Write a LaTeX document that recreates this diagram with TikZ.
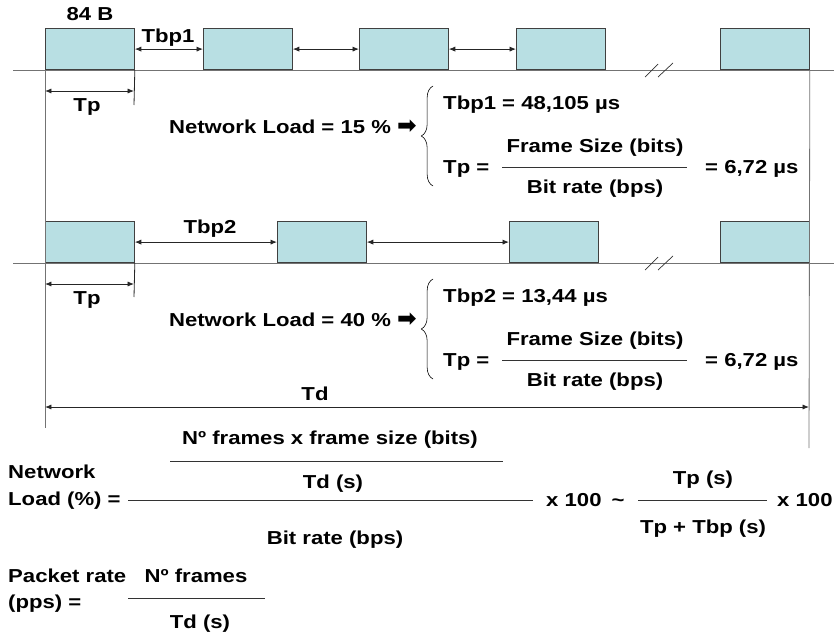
\documentclass[tikz,border=0pt]{standalone}
\usepackage{fontspec}
\setmainfont{Liberation Sans}[FakeStretch=1.18]
\newfontfamily\arrowfont{DejaVu Sans}
\usetikzlibrary{arrows.meta,decorations.pathreplacing}
\definecolor{framefill}{RGB}{184,223,227}
\definecolor{linegray}{RGB}{115,115,115}

\begin{document}
\begin{tikzpicture}[x=0.03cm,y=-0.03cm,
  every node/.style={font=\bfseries\fontsize{16}{18}\selectfont,inner sep=0pt},
  frame/.style={draw=black!75,fill=framefill,line width=0.7pt,minimum width=2.67cm,minimum height=1.23cm,anchor=south west},
  dim/.style={black!85,line width=0.7pt,{Latex[length=5.5pt,width=4.4pt]}-{Latex[length=5.5pt,width=4.4pt]}},
  axis/.style={linegray,line width=0.7pt},
  tick/.style={black!85,line width=0.7pt},
  fracbar/.style={black!80,line width=0.6pt},
  brk/.style={black!80,line width=0.6pt},
  curly/.style={decorate,decoration={brace,amplitude=10pt},line width=0.5pt}]
\useasboundingbox (0,0) rectangle (834,637);

%time axes
\draw[axis] (13,70) -- (834,70);
\draw[axis] (13,263) -- (834,263);
\draw[brk] (645,77) -- (658,64) (658,77) -- (673,63);
\draw[brk] (645,270) -- (658,257) (658,270) -- (673,256);

%frames at 15 %
\node[frame] (f1) at (45,70) {};
\node[frame] (f2) at (203,70) {};
\node[frame] (f3) at (359,70) {};
\node[frame] (f4) at (516,70) {};
\node[frame] (f5) at (720,70) {};
\node[anchor=base] (size) at (90,20) {84 B};
\node[anchor=base] (tbp1) at (168,42) {Tbp1};
\draw[dim] (f1.east) -- (f2.west);
\draw[dim] (f2.east) -- (f3.west);
\draw[dim] (f3.east) -- (f4.west);

%frames at 40 %
\node[frame] (g1) at (45,263) {};
\node[frame] (g2) at (277,263) {};
\node[frame] (g3) at (509,263) {};
\node[frame] (g4) at (720,263) {};
\node[anchor=base] (tbp2) at (210,233) {Tbp2};
\draw[dim] (g1.east) -- (g2.west);
\draw[dim] (g2.east) -- (g3.west);

%limits of Td
\coordinate (lend) at (45,428);
\coordinate (rend) at (809,448);
\draw[axis] (f1.south west) -- (lend);
\draw[axis] (f5.south east) -- (rend);

%Tp, first row
\coordinate (tk1) at (134,105);
\coordinate (tpa1) at (45,91);
\coordinate (tpb1) at (134,91);
\draw[tick] (f1.south east) -- (tk1);
\draw[dim] (tpa1) -- (tpb1);
\node[anchor=base] (tplab1) at (87,111) {Tp};

%Tp, second row
\coordinate (tk2) at (134,297);
\coordinate (tpa2) at (45,284);
\coordinate (tpb2) at (134,284);
\draw[tick] (g1.south east) -- (tk2);
\draw[dim] (tpa2) -- (tpb2);
\node[anchor=base] (tplab2) at (87,304) {Tp};

%values at 15 %
\node[anchor=base east] (load1) at (417,133) {Network Load = 15 \% {\arrowfont\fontsize{20}{20}\selectfont\raisebox{-0.5pt}{➡}}};
\draw[curly] (433,186) -- (433,86);
\node[anchor=base west] (tbpv1) at (443,109) {Tbp1 = 48,105 µs};
\node[anchor=base west] (tpeq1) at (443,173) {Tp =};
\draw[fracbar] (502,167) -- (687,167);
\node[anchor=base] (fs1) at (595,152) {Frame Size (bits)};
\node[anchor=base] (br1) at (595,193) {Bit rate (bps)};
\node[anchor=base west] (tpv1) at (705,173) {= 6,72 µs};

%values at 40 %
\node[anchor=base east] (load2) at (417,326) {Network Load = 40 \% {\arrowfont\fontsize{20}{20}\selectfont\raisebox{-0.5pt}{➡}}};
\draw[curly] (433,379) -- (433,279);
\node[anchor=base west] (tbpv2) at (443,302) {Tbp2 = 13,44 µs};
\node[anchor=base west] (tpeq2) at (443,366) {Tp =};
\draw[fracbar] (502,360) -- (687,360);
\node[anchor=base] (fs2) at (595,345) {Frame Size (bits)};
\node[anchor=base] (br2) at (595,386) {Bit rate (bps)};
\node[anchor=base west] (tpv2) at (705,366) {= 6,72 µs};

%Td
\coordinate (tda) at (45,407);
\coordinate (tdb) at (809,407);
\draw[dim] (tda) -- (tdb);
\node[anchor=base] (td) at (315,400) {Td};

%network load formula
\node[anchor=base west] (nl1) at (8,478) {Network};
\node[anchor=base west] (nl2) at (8,505) {Load (\%) =};
\node[anchor=base] (num) at (330,444) {Nº frames x frame size (bits)};
\draw[fracbar] (170,461) -- (503,461);
\node[anchor=base] (tds) at (333,488) {Td (s)};
\draw[fracbar] (128,500) -- (533,500);
\node[anchor=base] (bitr) at (335,544) {Bit rate (bps)};
\node[anchor=base west] (x1) at (546,506) {x 100};
\node[anchor=base] (approx) at (618,506) {\textasciitilde};
\node[anchor=base] (tpn) at (703,484) {Tp (s)};
\draw[fracbar] (638,500) -- (767,500);
\node[anchor=base] (tpd) at (703,533) {Tp + Tbp (s)};
\node[anchor=base west] (x2) at (777,506) {x 100};

%packet rate formula
\node[anchor=base west] (pr1) at (8,582) {Packet rate};
\node[anchor=base west] (pr2) at (8,608) {(pps) =};
\node[anchor=base] (nfr) at (196,582) {Nº frames};
\draw[fracbar] (128,598) -- (265,598);
\node[anchor=base] (tds2) at (200,628) {Td (s)};
\end{tikzpicture}
\end{document}
